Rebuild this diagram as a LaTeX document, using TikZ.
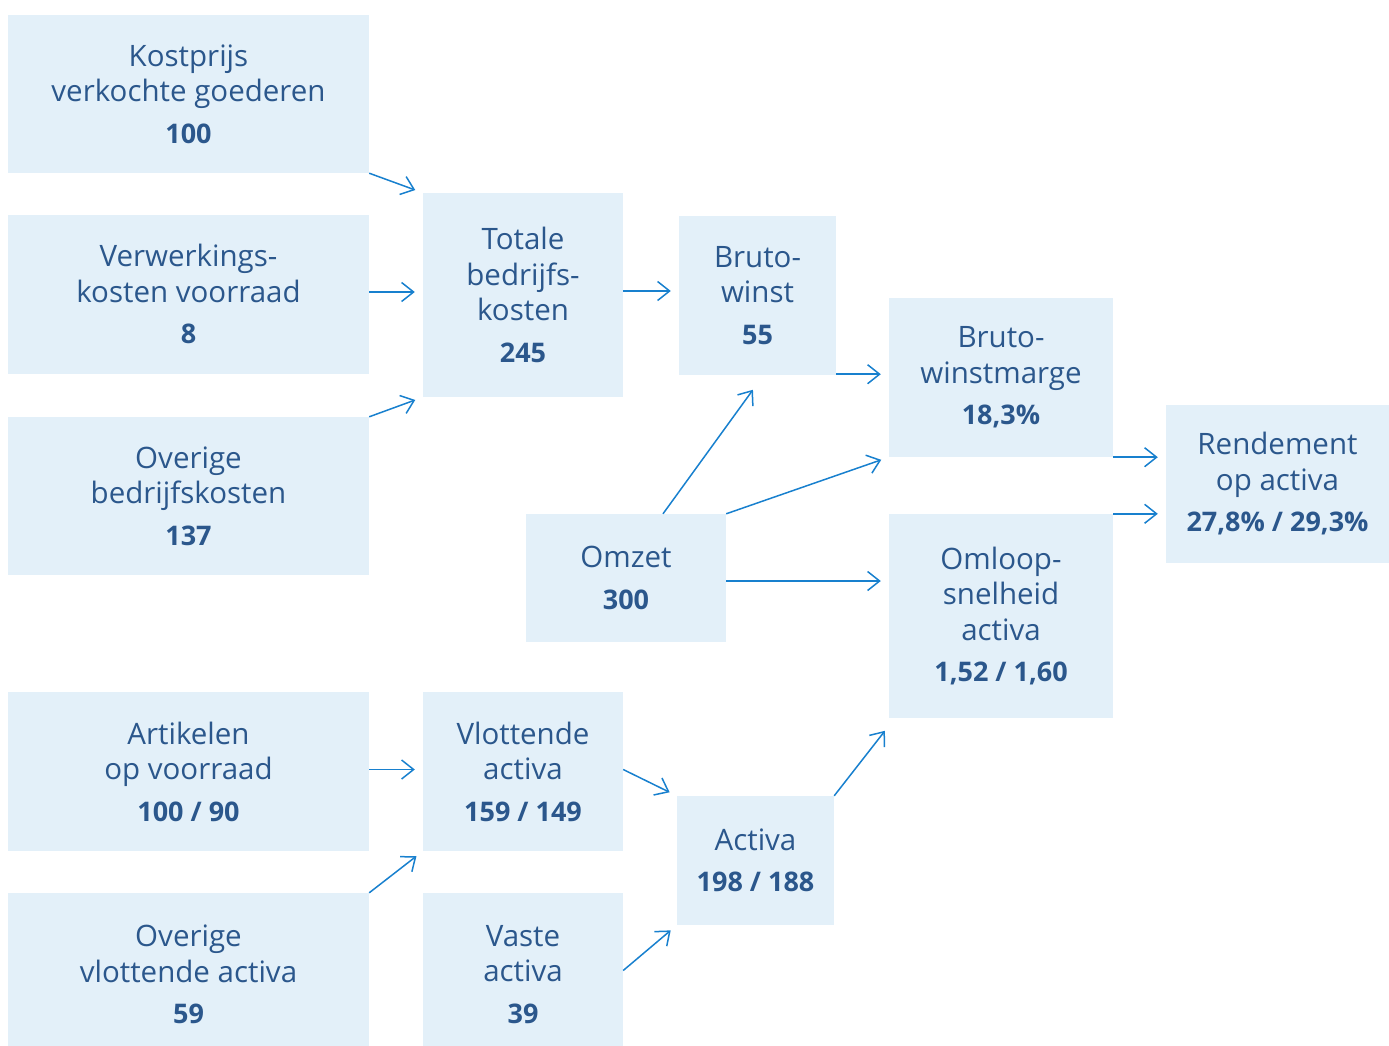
\documentclass[tikz,border=0pt]{standalone}
\usepackage{fontspec}
\setmainfont{Open Sans}
\usetikzlibrary{arrows.meta,calc}

\definecolor{boxfill}{HTML}{E3F0F9}
\definecolor{boxtext}{HTML}{2B578C}
\definecolor{arrowblue}{HTML}{1880CE}

\newcommand{\val}[1]{{\fontsize{27}{35.5}\selectfont\bfseries #1}}

\tikzset{
  box/.style={fill=boxfill, text=boxtext, align=center, inner sep=0pt,
    font=\fontsize{29.5}{35.5}\selectfont},
  wide/.style={box, minimum width=361pt, minimum height=158pt},
  mid/.style={box, minimum width=200pt, minimum height=158pt},
  arr/.style={draw=arrowblue, line width=1.5pt,
    -{Straight Barb[length=12pt,width=19pt]}, shorten >=8pt},
}

\begin{document}
\begin{tikzpicture}[x=1pt, y=-1pt]
  \useasboundingbox (0,0) rectangle (1389,1046);

  \node[wide] (kost) at (188.5,94) {Kostprijs\\verkochte goederen\\[6pt]\val{100}};
  \node[wide, minimum height=159pt] (verw) at (188.5,294) {Verwerkings-\\kosten voorraad\\[6pt]\val{8}};
  \node[wide] (ovbk) at (188.5,496) {Overige\\bedrijfskosten\\[6pt]\val{137}};
  \node[mid, minimum height=204pt] (totaal) at (523,295) {Totale\\bedrijfs-\\kosten\\[6pt]\val{245}};
  \node[box, minimum width=157pt, minimum height=159pt] (bruto) at (757.5,295.5) {Bruto-\\winst\\[6pt]\val{55}};
  \node[mid, minimum height=128pt] (omzet) at (626,578) {Omzet\\[6pt]\val{300}};
  \node[box, minimum width=224pt, minimum height=159pt] (marge) at (1001,377.5) {Bruto-\\winstmarge\\[6pt]\val{18,3\%}};
  \node[box, minimum width=224pt, minimum height=204pt] (omloop) at (1001,616) {Omloop-\\snelheid\\activa\\[6pt]\val{1,52 / 1,60}};
  \node[box, minimum width=223pt, minimum height=158pt] (rend) at (1277.5,484) {Rendement\\op activa\\[6pt]\val{27,8\% / 29,3\%}};

  \node[wide, minimum height=159pt] (artikel) at (188.5,771.5) {Artikelen\\op voorraad\\[6pt]\val{100 / 90}};
  \node[wide, minimum height=163pt] (ovva) at (188.5,974.5) {Overige\\vlottende activa\\[6pt]\val{59}};
  \node[mid, minimum height=159pt] (vlot) at (523,771.5) {Vlottende\\activa\\[6pt]\val{159 / 149}};
  \node[mid, minimum height=163pt] (vast) at (523,974.5) {Vaste\\activa\\[6pt]\val{39}};
  \node[box, minimum width=157pt, minimum height=129pt] (activa) at (755.5,860.5) {Activa\\[6pt]\val{198 / 188}};

  \draw[arr] (kost.south east) -- (totaal.north west);
  \draw[arr] ($(verw.east)+(0,-2)$) -- ($(verw.east -| totaal.west)+(0,-2)$);
  \draw[arr] (ovbk.north east) -- (totaal.south west);
  \draw[arr] ($(totaal.east)+(0,-4)$) -- ($(totaal.east -| bruto.west)+(0,-4)$);
  \draw[arr] ($(bruto.south east)+(0,-1)$) -- ($(bruto.south east -| marge.west)+(0,-1)$);
  \draw[arr, shorten >=18pt] ($(omzet.north)+(37,0)$) -- ($(bruto.south)+(6,0)$);
  \draw[arr] (omzet.north east) -- (marge.south west);
  \draw[arr] ($(omzet.east)+(0,3)$) -- ($(omzet.east -| omloop.west)+(0,3)$);
  \draw[arr] (marge.south east) -- (marge.south east -| rend.west);
  \draw[arr] (omloop.north east) -- (omloop.north east -| rend.west);

  \draw[arr] ($(artikel.east)+(0,-2)$) -- ($(artikel.east -| vlot.west)+(0,-2)$);
  \draw[arr] (ovva.north east) -- (vlot.south west);
  \draw[arr] ($(vlot.east)+(0,-2)$) -- (activa.north west);
  \draw[arr] ($(vast.east)+(0,-4)$) -- (activa.south west);
  \draw[arr, shorten >=16pt] (activa.north east) -- ($(omloop.south west)+(6,0)$);
\end{tikzpicture}
\end{document}
